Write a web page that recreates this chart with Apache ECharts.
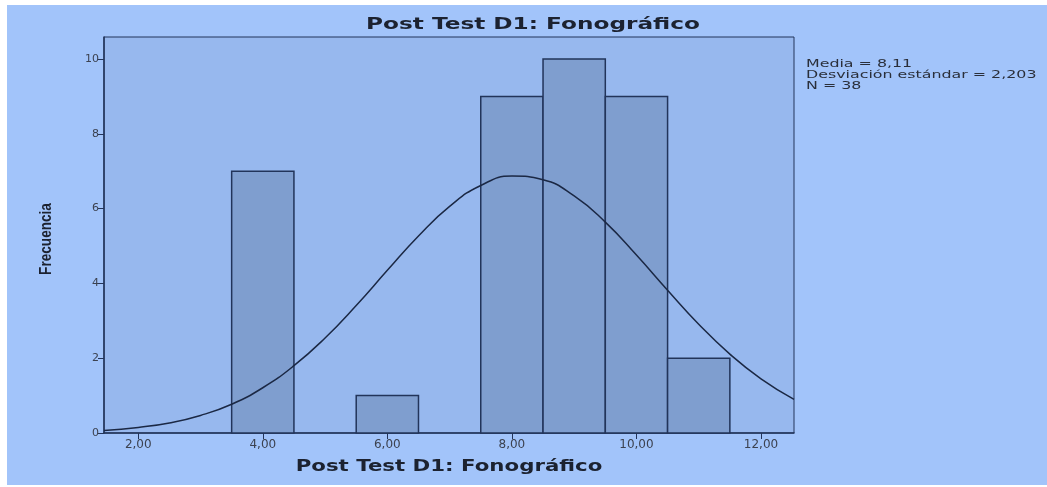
<!DOCTYPE html>
<html>
<head>
<meta charset="utf-8">
<script src="https://cdn.jsdelivr.net/npm/echarts@6/dist/echarts.min.js"></script>
<style>
  html, body { margin: 0; padding: 0; background: #ffffff; }
  #chart { width: 1047px; height: 487px; }
</style>
</head>
<body>
<div id="chart"></div>
<script>
// histogram bins (Post Test D1: Fonografico)
const binStart = [3.5, 5.5, 7.5, 8.5, 9.5, 10.5]
const binEnd = [4.5, 6.5, 8.5, 9.5, 10.5, 11.5]
const counts = [7, 1, 9, 10, 9, 2]

// normal curve
const curveX = [1.45, 2, 2.5, 3, 3.5, 4, 4.5, 5, 5.5, 6, 6.5, 7, 7.5, 8, 8.5, 9, 9.5, 10, 10.5, 11, 11.5, 12, 12.53]
const curveY = [0.07, 0.15, 0.27, 0.47, 0.77, 1.21, 1.8, 2.54, 3.41, 4.35, 5.27, 6.06, 6.62, 6.87, 6.77, 6.34, 5.64, 4.76, 3.82, 2.91, 2.11, 1.45, 0.9]

const xTicks = [2, 4, 6, 8, 10, 12]
const yTicks = [0, 2, 4, 6, 8, 10]
const statsLines = ["Media = 8,11", "Desviación estándar = 2,203", "N = 38"]

const titleText = "Post Test D1: Fonográfico"
const xName = "Post Test D1: Fonográfico"
const yName = "Frecuencia"

const dark = "#22345a"
const labelColor = "#3c4250"
const textColor = "#1c2230"

const chart = echarts.init(document.getElementById("chart"))

const option = {
  backgroundColor: "#ffffff",
  animation: false,
  graphic: [
    {
      type: "rect",
      z: -10,
      shape: { x: 7, y: 5, width: 1040, height: 480 },
      style: { fill: "#a2c4fa" },
      silent: true
    },
    // chart title, SPSS output is stretched sideways
    {
      type: "text",
      x: 533,
      y: 25,
      scaleX: 1.45,
      style: {
        text: titleText,
        font: "bold 16px 'DejaVu Sans'",
        fill: textColor,
        textAlign: "center",
        textVerticalAlign: "middle"
      }
    },
    {
      type: "text",
      x: 449,
      y: 467,
      scaleX: 1.42,
      style: {
        text: xName,
        font: "bold 15px 'DejaVu Sans'",
        fill: textColor,
        textAlign: "center",
        textVerticalAlign: "middle"
      }
    },
    {
      type: "text",
      x: 47,
      y: 239,
      rotation: Math.PI / 2,
      scaleX: 0.85,
      style: {
        text: yName,
        font: "bold 16px 'Liberation Sans'",
        fill: textColor,
        textAlign: "center",
        textVerticalAlign: "middle"
      }
    },
    {
      type: "text",
      x: 806,
      y: 59,
      scaleX: 1.44,
      style: {
        text: statsLines.join("\n"),
        font: "11px 'DejaVu Sans'",
        fill: "#2a2f3a",
        lineHeight: 11,
        textAlign: "left",
        textVerticalAlign: "top"
      }
    }
  ],
  grid: {
    left: 104,
    right: 253,
    top: 37,
    bottom: 54,
    show: true,
    backgroundColor: "#97b8ee",
    borderColor: dark,
    borderWidth: 1
  },
  xAxis: {
    type: "value",
    min: 1.45,
    max: 12.53,
    axisLine: { show: true, lineStyle: { color: dark, width: 1.5 } },
    axisTick: { show: true, length: 6, customValues: xTicks, lineStyle: { color: dark } },
    axisLabel: {
      customValues: xTicks,
      color: labelColor,
      fontSize: 12,
      fontFamily: "DejaVu Sans",
      margin: 6,
      formatter: v => v.toFixed(2).replace(".", ",")
    },
    splitLine: { show: false }
  },
  yAxis: {
    type: "value",
    min: 0,
    max: 10.59,
    axisLine: { show: true, lineStyle: { color: dark, width: 1.5 } },
    axisTick: { show: true, length: 6, customValues: yTicks, lineStyle: { color: dark } },
    axisLabel: {
      customValues: yTicks,
      color: labelColor,
      fontSize: 11,
      fontFamily: "DejaVu Sans",
      margin: 5
    },
    splitLine: { show: false }
  },
  series: [
    {
      type: "custom",
      name: "Frecuencia",
      data: counts.map((c, i) => [binStart[i], binEnd[i], c]),
      encode: { x: [0, 1], y: 2 },
      renderItem: (params, api) => {
        const p0 = api.coord([api.value(0), api.value(2)])
        const p1 = api.coord([api.value(1), 0])
        return {
          type: "rect",
          shape: { x: p0[0], y: p0[1], width: p1[0] - p0[0], height: p1[1] - p0[1] },
          style: { fill: "#7f9ecf", stroke: dark, lineWidth: 1.5 }
        }
      }
    },
    {
      type: "line",
      name: "Normal",
      data: curveX.map((x, i) => [x, curveY[i]]),
      smooth: true,
      showSymbol: false,
      lineStyle: { color: "#1b2844", width: 1.5 },
      z: 5
    }
  ]
}

chart.setOption(option)
</script>
</body>
</html>
